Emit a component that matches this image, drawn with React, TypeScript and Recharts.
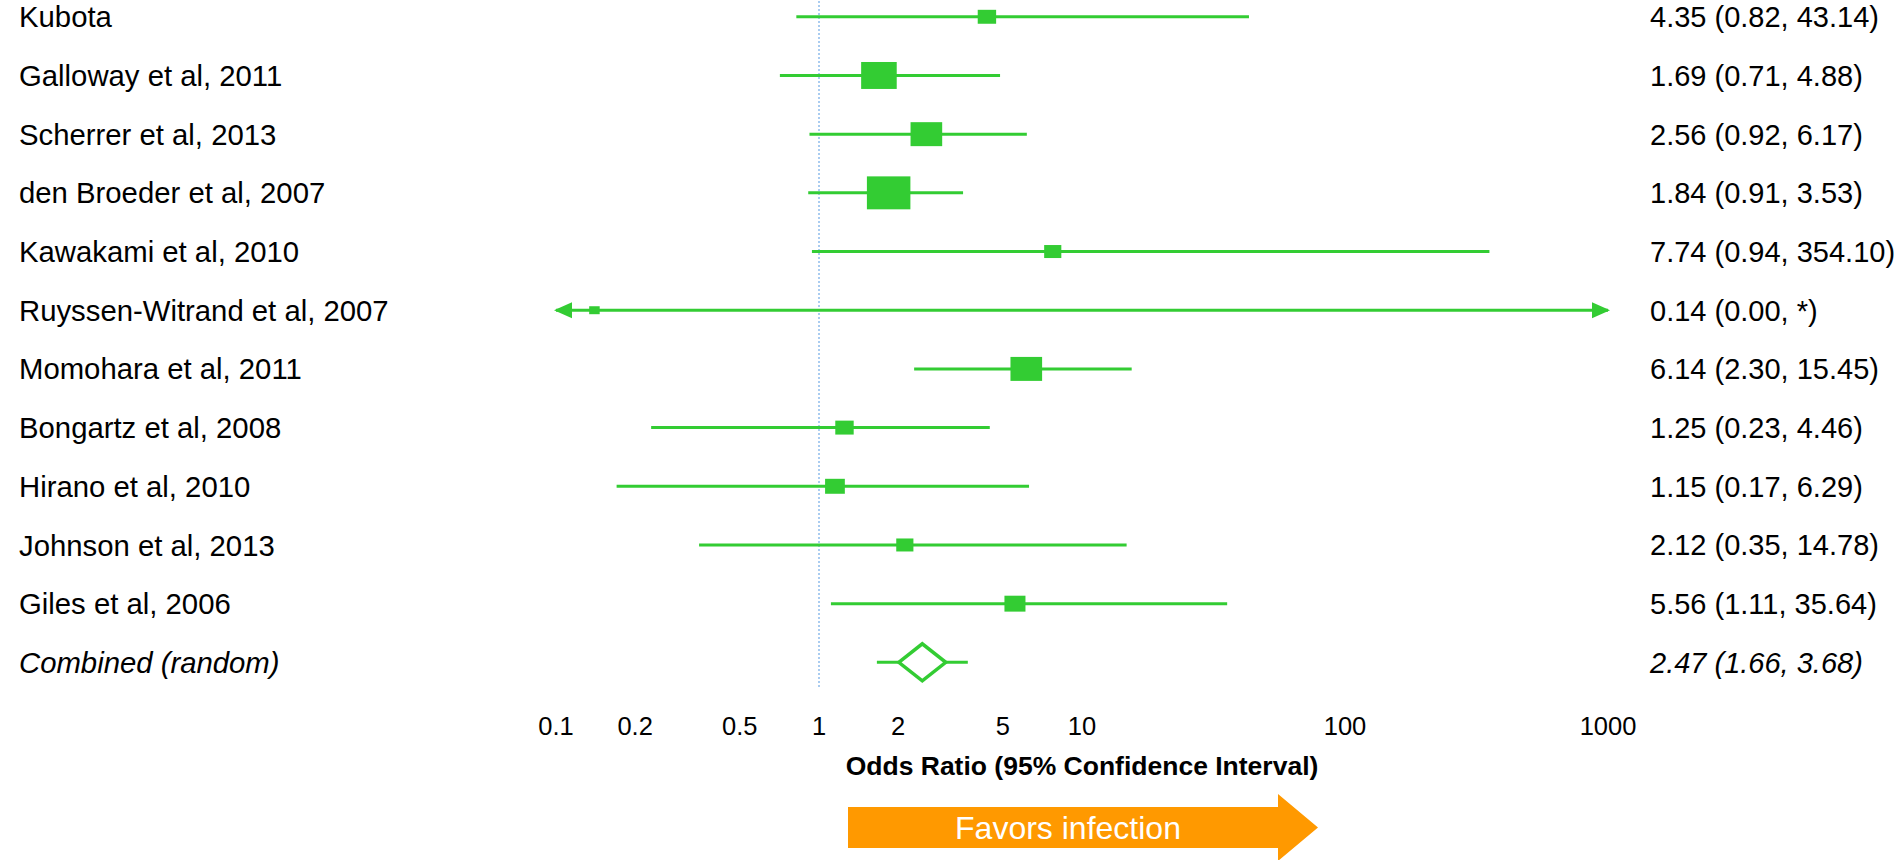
import React from 'react';
import { ComposedChart, XAxis, YAxis, Scatter, ReferenceLine, Label } from 'recharts';

// Study labels, odds ratios and 95% CI limits (last row is the pooled estimate)
const studyNames = [
  'Kubota',
  'Galloway et al, 2011',
  'Scherrer et al, 2013',
  'den Broeder et al, 2007',
  'Kawakami et al, 2010',
  'Ruyssen-Witrand et al, 2007',
  'Momohara et al, 2011',
  'Bongartz et al, 2008',
  'Hirano et al, 2010',
  'Johnson et al, 2013',
  'Giles et al, 2006',
  'Combined (random)',
];
const oddsRatios = [4.35, 1.69, 2.56, 1.84, 7.74, 0.14, 6.14, 1.25, 1.15, 2.12, 5.56, 2.47];
const lowerCI = [0.82, 0.71, 0.92, 0.91, 0.94, 0.0, 2.3, 0.23, 0.17, 0.35, 1.11, 1.66];
// null = upper limit not estimable ("*")
const upperCI: (number | null)[] = [43.14, 4.88, 6.17, 3.53, 354.1, null, 15.45, 4.46, 6.29, 14.78, 35.64, 3.68];
// study weights in %
const weights = [4.6, 17.2, 13.6, 25.7, 4.0, 1.5, 13.6, 4.6, 5.3, 4.0, 6.0];
const xTicks = [0.1, 0.2, 0.5, 1, 2, 5, 10, 100, 1000];
const xAxisTitle = 'Odds Ratio (95% Confidence Interval)';
const arrowText = 'Favors infection';

const X_MIN = 0.1;
const X_MAX = 1000;
const GREEN = '#33cc33';
const FONT = '"Liberation Sans", Arial, sans-serif';

const rows = studyNames.map((name, i) => ({
  row: i,
  name,
  or: oddsRatios[i],
  lo: lowerCI[i],
  hi: upperCI[i],
  weight: weights[i],
  pooled: i === studyNames.length - 1,
}));

const fmt = (v: number | null) => (v == null ? '*' : v.toFixed(2));
const estimateText = (r: (typeof rows)[number]) => `${fmt(r.or)} (${fmt(r.lo)}, ${fmt(r.hi)})`;

function CiLine(props: any) {
  const { x1, y1, x2, y2, openLo, openHi } = props;
  const head = 18;
  const half = 8;
  return (
    <g>
      <line x1={x1} y1={y1} x2={x2} y2={y2} stroke={GREEN} strokeWidth={3} />
      {openLo && (
        <polygon points={`${x1 - 2},${y1} ${x1 + head - 2},${y1 - half} ${x1 + head - 2},${y1 + half}`} fill={GREEN} />
      )}
      {openHi && (
        <polygon points={`${x2 + 2},${y2} ${x2 - head + 2},${y2 - half} ${x2 - head + 2},${y2 + half}`} fill={GREEN} />
      )}
    </g>
  );
}

function StudyBox(props: any) {
  const { cx, cy, payload } = props;
  const h = 6.5 * Math.sqrt(payload.weight);
  const w = h * 1.32;
  return <rect x={cx - w / 2} y={cy - h / 2} width={w} height={h} fill={GREEN} />;
}

function PooledDiamond(props: any) {
  const { cx, cy } = props;
  const hw = 23.5;
  const hh = 18.5;
  return (
    <polygon
      points={`${cx - hw},${cy} ${cx},${cy - hh} ${cx + hw},${cy} ${cx},${cy + hh}`}
      fill="#ffffff"
      stroke={GREEN}
      strokeWidth={3.5}
    />
  );
}

function LeftTick(props: any) {
  const { y, payload } = props;
  const r = rows[payload.value];
  if (!r) return null;
  return (
    <text x={19} y={y} dy="0.36em" textAnchor="start" fontFamily={FONT} fontSize={29.3} fill="#000"
      fontStyle={r.pooled ? 'italic' : 'normal'}>
      {r.name}
    </text>
  );
}

function RightTick(props: any) {
  const { x, y, payload } = props;
  const r = rows[payload.value];
  if (!r) return null;
  return (
    <text x={x} y={y} dy="0.36em" textAnchor="start" fontFamily={FONT} fontSize={29} fill="#000"
      fontStyle={r.pooled ? 'italic' : 'normal'}>
      {estimateText(r)}
    </text>
  );
}

export default function App() {
  const studyRows = rows.filter((r) => !r.pooled);
  const pooledRows = rows.filter((r) => r.pooled);
  const rowTicks = rows.map((r) => r.row);

  return (
    <div style={{ position: 'absolute', left: 0, top: 0, width: 1903, height: 860, background: '#fff' }}>
      <ComposedChart width={1903} height={860} margin={{ top: 0, right: 0, bottom: 0, left: 0 }}>
        <XAxis
          type="number"
          dataKey="or"
          scale="log"
          domain={[X_MIN, X_MAX]}
          allowDataOverflow
          ticks={xTicks}
          interval={0}
          tickFormatter={(v) => String(v)}
          axisLine={false}
          tickLine={false}
          tickMargin={24}
          height={173}
          tick={{ fill: '#000', fontSize: 25.5, fontFamily: FONT }}
        >
          <Label
            value={xAxisTitle}
            position="insideTop"
            offset={69}
            style={{ fill: '#000', fontSize: 26.5, fontWeight: 'bold', fontFamily: FONT }}
          />
        </XAxis>
        <YAxis
          yAxisId="left"
          type="number"
          dataKey="row"
          reversed
          domain={[-0.286, rows.length - 1 + 0.42]}
          allowDataOverflow
          ticks={rowTicks}
          interval={0}
          width={556}
          axisLine={false}
          tickLine={false}
          tick={<LeftTick />}
        />
        <YAxis
          yAxisId="right"
          orientation="right"
          type="number"
          dataKey="row"
          reversed
          domain={[-0.286, rows.length - 1 + 0.42]}
          allowDataOverflow
          ticks={rowTicks}
          interval={0}
          width={295}
          axisLine={false}
          tickLine={false}
          tickMargin={36}
          tick={<RightTick />}
        />
        <ReferenceLine
          yAxisId="left"
          x={1}
          stroke="#8fbcec"
          strokeWidth={1.5}
          strokeDasharray="2 2"
        />
        {rows.map((r) => {
          const lo = Math.max(r.lo, X_MIN);
          const hi = r.hi == null ? X_MAX : Math.min(r.hi, X_MAX);
          const openLo = r.lo < X_MIN;
          const openHi = r.hi == null || r.hi > X_MAX;
          return (
            <ReferenceLine
              key={r.name}
              yAxisId="left"
              ifOverflow="visible"
              segment={[
                { x: lo, y: r.row },
                { x: hi, y: r.row },
              ]}
              shape={(p: any) => <CiLine {...p} openLo={openLo} openHi={openHi} />}
            />
          );
        })}
        <Scatter
          yAxisId="left"
          data={studyRows}
          shape={<StudyBox />}
          isAnimationActive={false}
        />
        <Scatter
          yAxisId="left"
          data={pooledRows}
          shape={<PooledDiamond />}
          isAnimationActive={false}
        />
      </ComposedChart>
      <svg
        width={1903}
        height={860}
        style={{ position: 'absolute', left: 0, top: 0, pointerEvents: 'none' }}
      >
        <polygon
          points="848,807 1278,807 1278,794 1318,827.5 1278,861 1278,848 848,848"
          fill="#ff9900"
        />
        <text x={1068} y={839} textAnchor="middle" fontFamily={FONT} fontSize={32} fill="#fff">
          {arrowText}
        </text>
      </svg>
    </div>
  );
}
